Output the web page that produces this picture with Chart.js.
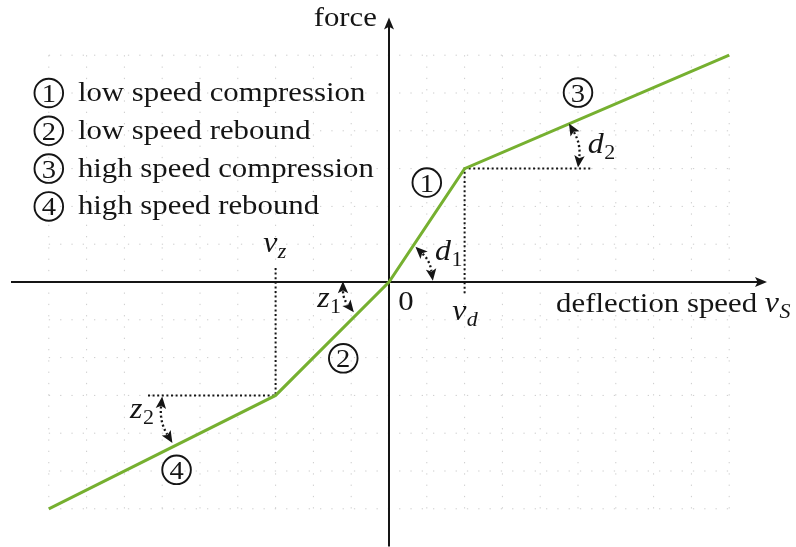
<!DOCTYPE html>
<html>
<head>
<meta charset="utf-8">
<script src="https://cdn.jsdelivr.net/npm/chart.js@4.4.0/dist/chart.umd.min.js"></script>
<style>
  html, body { margin: 0; padding: 0; background: #fff; }
  #wrap { width: 796px; height: 547px; }
</style>
</head>
<body>
<div id="wrap"><canvas id="kennlinie" width="796" height="547"></canvas></div>
<script>
// knots of the piecewise linear damper force curve
const speedKnots = [-9, -3, 0, 2, 9];
const forceKnots = [-6, -3, 0, 3, 6];

// knee speeds: rebound side (v_z) and compression side (v_d)
const vz = -3;
const vd = 2;
const kneeForceZ = -3;
const kneeForceD = 3;

// how far the dotted helper lines run
const guideD = { drop: -0.3, reach: 5.35 };
const guideZ = { rise: 0.37, reach: -6.4 };

const legendNames = [
  "low speed compression",
  "low speed rebound",
  "high speed compression",
  "high speed rebound"
];

const GREEN = "#76b030";
const INK = "#151515";
const SERIF = '"Liberation Serif", "DejaVu Serif", serif';
const WIDE = 1.1; // serif glyphs a bit wider than Liberation's

function pts(xs, ys) {
  return xs.map((v, i) => ({ x: v, y: ys[i] }));
}

function dotted(points) {
  return {
    data: points,
    showLine: true,
    borderColor: INK,
    borderWidth: 2,
    borderDash: [2, 2.6],
    pointRadius: 0,
    order: 2
  };
}

// text drawn slightly stretched horizontally, returns its width
function wideText(ctx, str, x, y, align) {
  const w = ctx.measureText(str).width * WIDE;
  let left = x;
  if (align === "right") left = x - w;
  if (align === "center") left = x - w / 2;
  ctx.save();
  ctx.textAlign = "left";
  ctx.translate(left, y);
  ctx.scale(WIDE, 1);
  ctx.fillText(str, 0, 0);
  ctx.restore();
  return w;
}

function arrowHead(ctx, tx, ty, ang, len, half) {
  ctx.save();
  ctx.translate(tx, ty);
  ctx.rotate(ang);
  ctx.beginPath();
  ctx.moveTo(0, 0);
  ctx.lineTo(-len, -half);
  ctx.lineTo(-len * 0.78, 0);
  ctx.lineTo(-len, half);
  ctx.closePath();
  ctx.fill();
  ctx.restore();
}

// dotted bent arrow with heads on both ends
function bentArrow(ctx, p0, p1, bend) {
  const dx = p1.x - p0.x, dy = p1.y - p0.y;
  const len = Math.hypot(dx, dy);
  const nx = -dy / len, ny = dx / len;
  const c = { x: (p0.x + p1.x) / 2 + nx * bend * len, y: (p0.y + p1.y) / 2 + ny * bend * len };
  const a0 = Math.atan2(p0.y - c.y, p0.x - c.x);
  const a1 = Math.atan2(p1.y - c.y, p1.x - c.x);
  const h = 10;
  const s = { x: p0.x - Math.cos(a0) * h, y: p0.y - Math.sin(a0) * h };
  const e = { x: p1.x - Math.cos(a1) * h, y: p1.y - Math.sin(a1) * h };
  ctx.save();
  ctx.strokeStyle = INK;
  ctx.fillStyle = INK;
  ctx.lineWidth = 2.3;
  ctx.setLineDash([2, 2.6]);
  ctx.beginPath();
  ctx.moveTo(s.x, s.y);
  ctx.quadraticCurveTo(c.x, c.y, e.x, e.y);
  ctx.stroke();
  ctx.setLineDash([]);
  arrowHead(ctx, p0.x, p0.y, a0, 12, 5.2);
  arrowHead(ctx, p1.x, p1.y, a1, 12, 5.2);
  ctx.restore();
}

function circled(ctx, cx, cy, n) {
  ctx.save();
  ctx.strokeStyle = INK;
  ctx.lineWidth = 1.9;
  ctx.beginPath();
  ctx.arc(cx, cy, 14.3, 0, Math.PI * 2);
  ctx.stroke();
  ctx.fillStyle = INK;
  ctx.font = "26px " + SERIF;
  ctx.textBaseline = "alphabetic";
  wideText(ctx, String(n), cx, cy + 9, "center");
  ctx.restore();
}

// italic symbol with a subscript
function symbol(ctx, x, y, main, sub, subItalic) {
  ctx.save();
  ctx.fillStyle = INK;
  ctx.font = "italic 29px " + SERIF;
  const w = wideText(ctx, main, x, y, "left");
  ctx.font = (subItalic ? "italic " : "") + "20px " + SERIF;
  wideText(ctx, sub, x + w + 0.5, y + 6, "left");
  ctx.restore();
}

const diagram = {
  id: "diagram",
  beforeDatasetsDraw(chart) {
    const { ctx, scales: { x, y } } = chart;
    const X = v => x.getPixelForValue(v);
    const Y = v => y.getPixelForValue(v);
    ctx.save();

    // faint dotted help grid
    ctx.strokeStyle = "#cccccc";
    ctx.lineWidth = 1;
    ctx.setLineDash([1.3, 10]);
    for (let i = -9; i <= 9; i++) {
      ctx.beginPath();
      ctx.moveTo(X(i), Y(6));
      ctx.lineTo(X(i), Y(-6));
      ctx.stroke();
    }
    for (let j = -6; j <= 6; j++) {
      ctx.beginPath();
      ctx.moveTo(X(-9), Y(j));
      ctx.lineTo(X(9), Y(j));
      ctx.stroke();
    }
    ctx.setLineDash([]);

    // axes
    ctx.strokeStyle = INK;
    ctx.fillStyle = INK;
    ctx.lineWidth = 2;
    ctx.beginPath();
    ctx.moveTo(X(-10), Y(0));
    ctx.lineTo(X(10) - 8, Y(0));
    ctx.moveTo(X(0), Y(-7));
    ctx.lineTo(X(0), Y(7) + 8);
    ctx.stroke();
    arrowHead(ctx, X(10), Y(0), 0, 12, 5);
    arrowHead(ctx, X(0), Y(7), -Math.PI / 2, 12, 5);
    ctx.restore();
  },
  afterDatasetsDraw(chart) {
    const { ctx, scales: { x, y } } = chart;
    const X = v => x.getPixelForValue(v);
    const Y = v => y.getPixelForValue(v);
    const P = (a, b) => ({ x: X(a), y: Y(b) });
    ctx.save();
    ctx.fillStyle = INK;
    ctx.textBaseline = "alphabetic";

    // axis titles
    ctx.font = "28px " + SERIF;
    wideText(ctx, "force", X(-0.32), Y(6.77), "right");
    const lw = wideText(ctx, "deflection speed ", X(4.42), Y(-0.79), "left");
    symbol(ctx, X(4.42) + lw, Y(-0.79), "v", "S", true);
    ctx.font = "28px " + SERIF;
    wideText(ctx, "0", X(0.45), Y(-0.74), "center");

    // knee speeds and slopes
    symbol(ctx, X(1.67), Y(-1.0), "v", "d", true);
    symbol(ctx, X(-3.33), Y(0.79), "v", "z", true);
    symbol(ctx, X(1.22), Y(0.58), "d", "1", false);
    symbol(ctx, X(5.26), Y(3.41), "d", "2", false);
    symbol(ctx, X(-1.9), Y(-0.66), "z", "1", false);
    symbol(ctx, X(-6.85), Y(-3.6), "z", "2", false);

    // slope arrows
    bentArrow(ctx, P(0.7, 0.93), P(1.16, 0.03), -0.17);
    bentArrow(ctx, P(4.76, 4.19), P(5.0, 3.03), -0.17);
    bentArrow(ctx, P(-1.22, 0.02), P(-0.93, -0.8), 0.17);
    bentArrow(ctx, P(-6.0, -3.03), P(-5.73, -4.26), 0.17);

    // region markers on the curve
    circled(ctx, X(1.0), Y(2.63), 1);
    circled(ctx, X(-1.21), Y(-2.02), 2);
    circled(ctx, X(5.0), Y(5.01), 3);
    circled(ctx, X(-5.62), Y(-4.97), 4);

    // legend
    legendNames.forEach((name, i) => {
      const row = 5 - i;
      circled(ctx, X(-9), Y(row), i + 1);
      ctx.fillStyle = INK;
      ctx.font = "28px " + SERIF;
      wideText(ctx, name, X(-8.23), Y(row) + 8, "left");
    });
    ctx.restore();
  }
};

new Chart(document.getElementById("kennlinie"), {
  type: "scatter",
  data: {
    datasets: [
      {
        data: pts(speedKnots, forceKnots),
        showLine: true,
        borderColor: GREEN,
        borderWidth: 3,
        pointRadius: 0,
        tension: 0,
        order: 0
      },
      dotted([{ x: vd, y: guideD.drop }, { x: vd, y: kneeForceD }, { x: guideD.reach, y: kneeForceD }]),
      dotted([{ x: vz, y: guideZ.rise }, { x: vz, y: kneeForceZ }, { x: guideZ.reach, y: kneeForceZ }])
    ]
  },
  options: {
    responsive: false,
    animation: false,
    devicePixelRatio: 1,
    layout: { padding: 0 },
    plugins: { legend: { display: false }, tooltip: { enabled: false } },
    scales: {
      x: { type: "linear", display: false, min: -389 / 37.8, max: 407 / 37.8 },
      y: { type: "linear", display: false, min: -265 / 37.8, max: 282 / 37.8 }
    }
  },
  plugins: [diagram]
});
</script>
</body>
</html>
